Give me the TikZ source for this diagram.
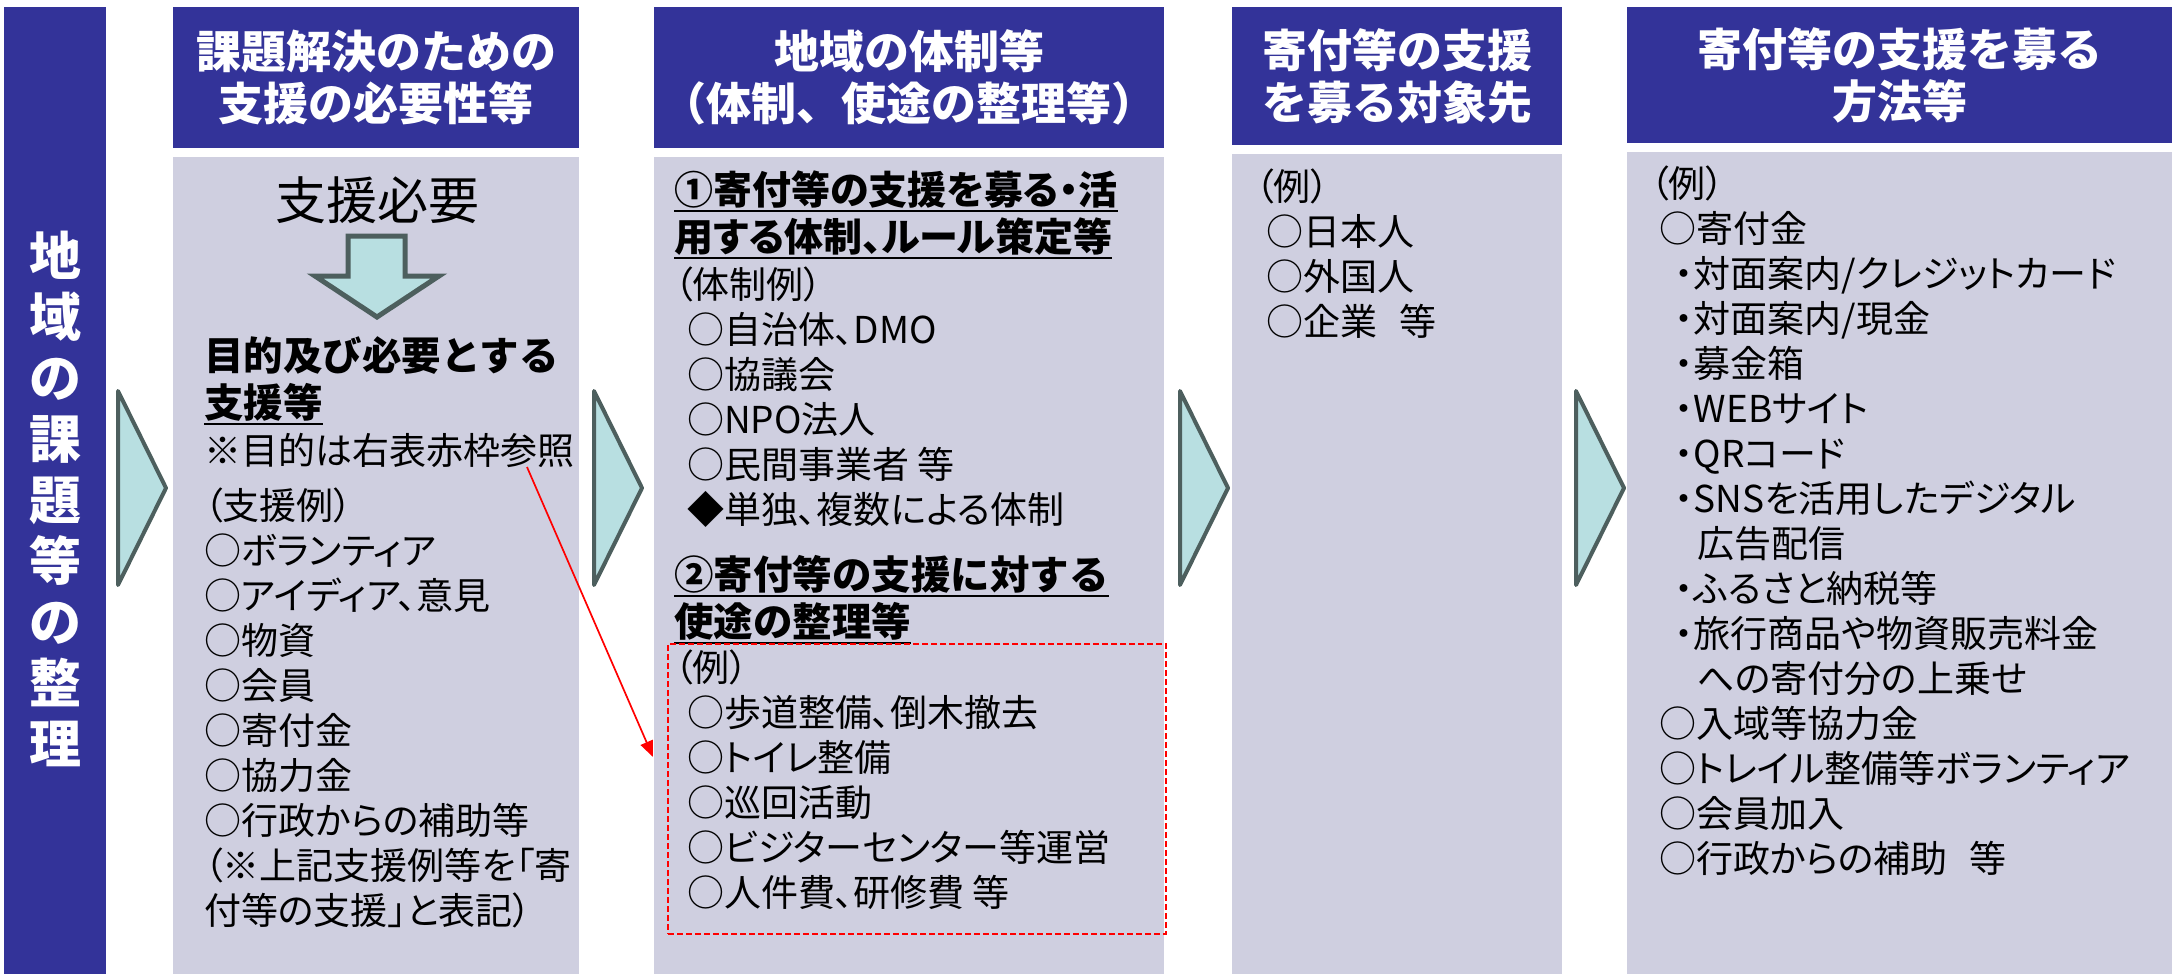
\documentclass[tikz,border=0pt]{standalone}
\usepackage{fontspec}
\setmainfont{Noto Sans CJK JP}
\newfontfamily\propjp{Noto Sans CJK JP}[RawFeature=+palt]
\usetikzlibrary{arrows.meta,calc}
\definecolor{hdrblue}{HTML}{333399}
\definecolor{bodygray}{HTML}{CFCFE0}
\definecolor{chevfill}{HTML}{B8DFE1}
\definecolor{chevline}{HTML}{4D5F5E}
\newsavebox\ulsave
\newcommand{\ulbox}[1]{\sbox\ulsave{#1}\rlap{\rule[-8pt]{\wd\ulsave}{2.4pt}}\usebox\ulsave}

\begin{document}
\begin{tikzpicture}[x=1pt,y=-1pt,
  hdr/.style={fill=hdrblue, text=white, inner sep=0, align=center, anchor=north west,
    font=\bfseries\fontsize{45}{52}\selectfont},
  panel/.style={fill=bodygray, inner sep=0, anchor=north west},
  txt/.style={anchor=base west, inner sep=0, align=left,
    font=\propjp\fontsize{37}{45}\selectfont},
  bold/.style={txt, font=\propjp\bfseries\fontsize{39}{47}\selectfont},
  boldwide/.style={txt, font=\bfseries\fontsize{39.5}{47}\selectfont},
  chev/.style={fill=chevfill, draw=chevline, line width=4pt, line join=round},
  refarrow/.style={-{Triangle[length=16pt,width=13pt]}, red, line width=1.7pt}]
\useasboundingbox (0,0) rectangle (2172,974);
% side bar
\node[hdr, minimum width=102, minimum height=967] (side) at (4,7) {};
\node[text=white, inner sep=0, align=center, font=\bfseries\fontsize{52}{61}\selectfont]
  (sidetext) at (55,499) {地\\域\\の\\課\\題\\等\\の\\整\\理};
% column heads
\node[hdr, minimum width=406, minimum height=141] (hdr1) at (173,7) {課題解決のための\\支援の必要性等};
\node[hdr, minimum width=510, minimum height=141] (hdr2) at (654,7) {地域の体制等\\（体制、使途の整理等）};
\node[hdr, minimum width=330, minimum height=138] (hdr3) at (1232,7) {寄付等の支援\\を募る対象先};
\node[hdr, minimum width=545, minimum height=136] (hdr4) at (1627,7) {寄付等の支援を募る\\方法等};
% column bodies
\node[panel, minimum width=406, minimum height=817] (body1) at (173,157) {};
\node[panel, minimum width=510, minimum height=817] (body2) at (654,157) {};
\node[panel, minimum width=330, minimum height=820] (body3) at (1232,154) {};
\node[panel, minimum width=545, minimum height=822] (body4) at (1627,152) {};
% chevrons between columns
\foreach \x in {118,594,1180,1576}
  \draw[chev] (\x,391) -- ++(48,97) -- ++(-48,97) -- cycle;
% column 1 (text nodes sit on the baseline of their last line)
\node[inner sep=0, anchor=base, font=\propjp\fontsize{51}{60}\selectfont] (need) at (377,219) {支援必要};
\draw[chev, line width=5pt, line join=miter] (348,236) -- (405,236) -- (405,276) -- (439,276)
  -- (377,317) -- (315,276) -- (348,276) -- cycle;
\node[boldwide] (purpose) at (204,417) {目的及び必要とする\\\ulbox{支援等}};
\node[txt] (refnote) at (204,464) {※目的は右表赤枠参照};
\node[txt] (supex) at (204,924) {（支援例）\\○ボランティア\\○アイディア、意見\\○物資\\○会員\\○寄付金\\○協力金\\○行政からの補助等\\（※上記支援例等を「寄\\付等の支援」と表記）};
% column 2
\node[bold] (system) at (674,251) {\ulbox{①寄付等の支援を募る・活}\\\ulbox{用する体制、ルール策定等}};
\node[txt] (sysex) at (674,523) {（体制例）\\\hspace*{13pt}○自治体、DMO\\\hspace*{13pt}○協議会\\\hspace*{13pt}○NPO法人\\\hspace*{13pt}○民間事業者 等\\\hspace*{13pt}◆単独、複数による体制};
\node[boldwide] (uses) at (674,636) {\ulbox{②寄付等の支援に対する}\\\ulbox{使途の整理等}};
\node[draw=red, line width=2pt, dash pattern=on 6pt off 3pt, inner sep=0, anchor=north west,
  minimum width=498, minimum height=290] (usebox) at (667,643) {};
\node[txt] (useex) at (674,906) {（例）\\\hspace*{13pt}○歩道整備、倒木撤去\\\hspace*{13pt}○トイレ整備\\\hspace*{13pt}○巡回活動\\\hspace*{13pt}○ビジターセンター等運営\\\hspace*{13pt}○人件費、研修費 等};
\coordinate (refpt) at (527,467);
\draw[refarrow] (refpt) -- ($(usebox.north west)+(-14,114)$);
% column 3
\node[txt] (tgtex) at (1255,335) {（例）\\\hspace*{11pt}○日本人\\\hspace*{11pt}○外国人\\\hspace*{11pt}○企業\hspace{22pt}等};
% column 4
\node[txt] (wayex) at (1650,872.5) {（例）\\
  \hspace*{9pt}○寄付金\\
  \hspace*{25pt}・対面案内/クレジットカード\\
  \hspace*{25pt}・対面案内/現金\\
  \hspace*{25pt}・募金箱\\
  \hspace*{25pt}・WEBサイト\\
  \hspace*{25pt}・QRコード\\
  \hspace*{25pt}・SNSを活用したデジタル\\
  \hspace*{47pt}広告配信\\
  \hspace*{25pt}・ふるさと納税等\\
  \hspace*{25pt}・旅行商品や物資販売料金\\
  \hspace*{47pt}への寄付分の上乗せ\\
  \hspace*{9pt}○入域等協力金\\
  \hspace*{9pt}○トレイル整備等ボランティア\\
  \hspace*{9pt}○会員加入\\
  \hspace*{9pt}○行政からの補助\hspace{22pt}等};
\end{tikzpicture}
\end{document}
